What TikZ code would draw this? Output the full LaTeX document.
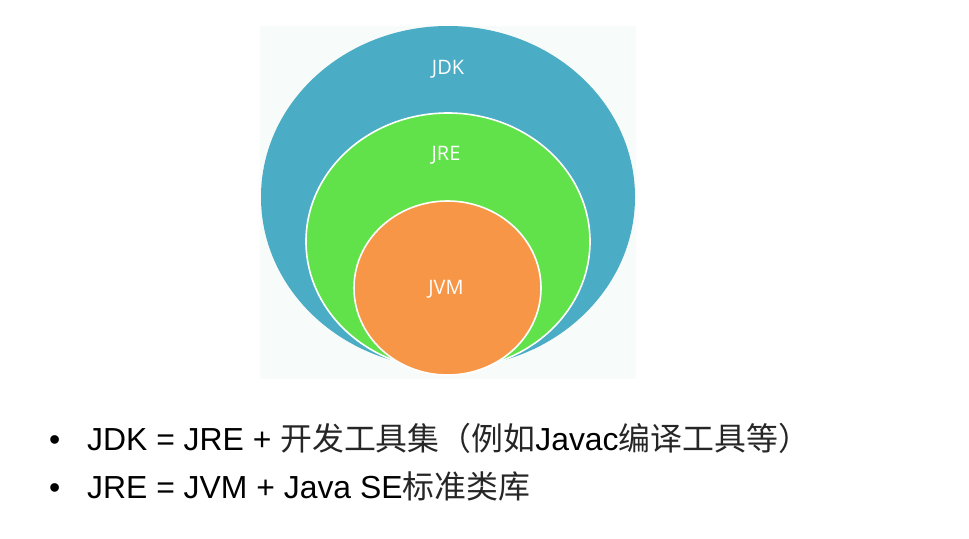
\documentclass[tikz,border=0pt]{standalone}
\usepackage{fontspec}
\setmainfont{Liberation Sans}
\newfontfamily\cjk{Noto Sans CJK SC}
\newfontfamily\ringfont{Open Sans}
\usetikzlibrary{positioning}
\definecolor{jdkblue}{RGB}{75,172,198}
\definecolor{jregreen}{RGB}{98,226,74}
\definecolor{jvmorange}{RGB}{247,150,70}
\definecolor{panelmint}{RGB}{247,252,250}
\newcommand{\zh}[1]{{\cjk\color{black!85}#1}}

\begin{document}
\begin{tikzpicture}[x=1bp, y=-1bp,
  ring/.style={draw=white, line width=1.6bp},
  ringlabel/.style={text=white, inner sep=0pt, font=\ringfont\fontsize{20}{22}\selectfont},
  bullettext/.style={anchor=base west, inner sep=0pt, font=\fontsize{32}{36}\selectfont}]
  \fill[white] (0,0) rectangle (969,539);
  \useasboundingbox (0,0) rectangle (969,539);
  % panel behind the rings
  \fill[panelmint] (260,26) rectangle (636,379);
  % nested rings
  \fill[jdkblue] (448,197) ellipse [x radius=187bp, y radius=171bp];
  \filldraw[ring, fill=jregreen] (448,241.5) ellipse [x radius=142bp, y radius=128.5bp];
  \filldraw[ring, fill=jvmorange] (447.5,288) ellipse [x radius=93.5bp, y radius=87bp];
  \node[ringlabel] (jdk) at (448,69) {JDK};
  \node[ringlabel] (jre) at (446,155) {JRE};
  \node[ringlabel] (jvm) at (446,289) {JVM};
  % bullet list
  \node[bullettext] (b1) at (49,450) {•};
  \node[bullettext] (l1) at (87,450) {JDK = JRE + \zh{开发工具集（例如}Javac\zh{编译工具等）}};
  \node[bullettext] (b2) at (49,498) {•};
  \node[bullettext] (l2) at (87,498) {JRE = JVM + Java SE\zh{标准类库}};
\end{tikzpicture}
\end{document}
